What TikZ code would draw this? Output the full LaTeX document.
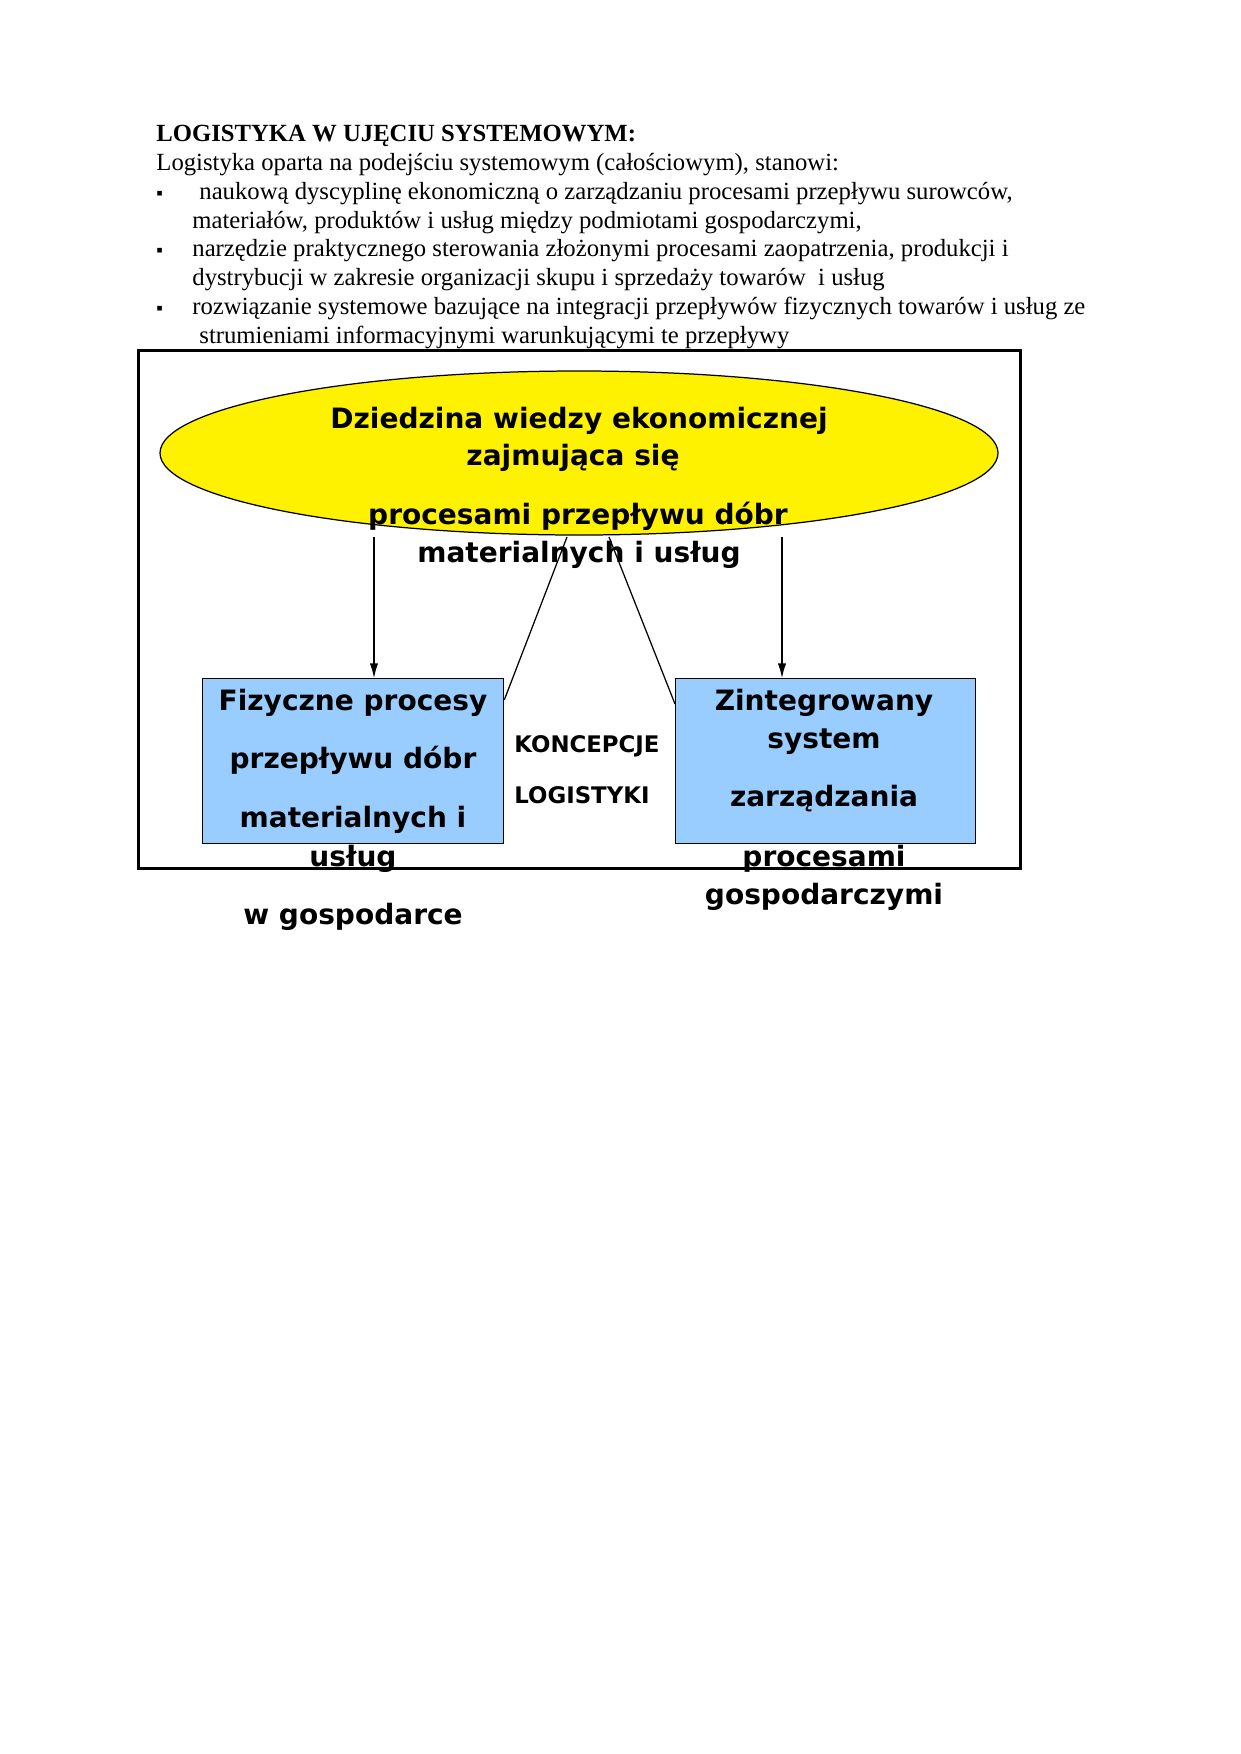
\documentclass[tikz,border=0pt]{standalone}
\usepackage{fontspec}
\setmainfont{Liberation Serif}
\newfontfamily\djsans{DejaVu Sans}
\usetikzlibrary{shapes.geometric,arrows.meta}
\begin{document}
\begin{tikzpicture}[x=0.48bp,y=-0.48bp,
  body/.style={anchor=base west,inner sep=0,font=\fontsize{11.9}{13}\selectfont},
  bul/.style={anchor=base west,inner sep=0,font=\fontsize{9}{10}\selectfont},
  dg/.style={anchor=base,inner sep=0,font=\djsans\bfseries\fontsize{13.5}{15}\selectfont},
  sm/.style={anchor=base west,inner sep=0,font=\djsans\bfseries\fontsize{11}{12}\selectfont},
  arr/.style={-{Latex[length=7pt,width=4pt]},line width=0.6pt}]
\useasboundingbox (0,0) rectangle (1240,1754);
\node[body] (t0) at (156,141) {\textbf{LOGISTYKA W UJĘCIU SYSTEMOWYM:}};
\node[body] (t1) at (156,170) {Logistyka oparta na podejściu systemowym (całościowym), stanowi:};
\node[bul] (b1) at (156,199) {\textbf{▪}};
\node[body] (t2) at (199,199) {naukową dyscyplinę ekonomiczną o zarządzaniu procesami przepływu surowców,};
\node[body] (t3) at (192,228) {materiałów, produktów i usług między podmiotami gospodarczymi,};
\node[bul] (b2) at (156,256) {\textbf{▪}};
\node[body] (t4) at (192,256) {narzędzie praktycznego sterowania złożonymi procesami zaopatrzenia, produkcji i};
\node[body] (t5) at (192,285) {dystrybucji w zakresie organizacji skupu i sprzedaży towarów\ \ i usług};
\node[bul] (b3) at (156,314) {\textbf{▪}};
\node[body] (t6) at (192,314) {rozwiązanie systemowe bazujące na integracji przepływów fizycznych towarów i usług ze};
\node[body] (t7) at (199,343) {strumieniami informacyjnymi warunkującymi te przepływy};
\node[draw,line width=1.6pt,minimum width=882*0.48bp,minimum height=518*0.48bp,anchor=north west,inner sep=0] (frame) at (137,349) {};
\node[ellipse,draw,fill=yellow,line width=0.6pt,minimum width=838*0.48bp,minimum height=164*0.48bp,inner sep=0] (ell) at (579,453) {};
\node[draw,fill={rgb,255:red,153;green,204;blue,255},line width=0.6pt,anchor=north west,minimum width=301*0.48bp,minimum height=165*0.48bp,inner sep=0] (lb) at (202,678) {};
\node[draw,fill={rgb,255:red,153;green,204;blue,255},line width=0.6pt,anchor=north west,minimum width=300*0.48bp,minimum height=165*0.48bp,inner sep=0] (rb) at (675,678) {};
\node[dg] (e1) at (579,428) {Dziedzina wiedzy ekonomicznej};
\node[dg] (e2) at (573,465) {zajmująca się};
\node[dg] (e3) at (578,524) {procesami przepływu dóbr};
\node[dg] (e4) at (579,562) {materialnych i usług};
\node[dg] (l1) at (353,710) {Fizyczne procesy};
\node[dg] (l2) at (353,768) {przepływu dóbr};
\node[dg] (l3) at (353,827) {materialnych i};
\node[dg] (l4) at (353,866) {usług};
\node[dg] (l5) at (353,924) {w gospodarce};
\node[dg] (r1) at (824,710) {Zintegrowany};
\node[dg] (r2) at (824,748) {system};
\node[dg] (r3) at (824,806) {zarządzania};
\node[dg] (r4) at (824,866) {procesami};
\node[dg] (r5) at (824,904) {gospodarczymi};
\node[sm] (k1) at (514,752) {KONCEPCJE};
\node[sm] (k2) at (514,803) {LOGISTYKI};
\coordinate (a1) at (374,537);
\coordinate (a2) at (782,537);
\coordinate (c1) at (567,537);
\coordinate (c2) at (609,537);
\draw[arr] (a1) -- (a1 |- lb.north);
\draw[arr] (a2) -- (a2 |- rb.north);
\draw[line width=0.6pt] (c1) -- (lb.north east |- 0,700);
\draw[line width=0.6pt] (c2) -- (rb.north west |- 0,704);
\end{tikzpicture}
\end{document}
